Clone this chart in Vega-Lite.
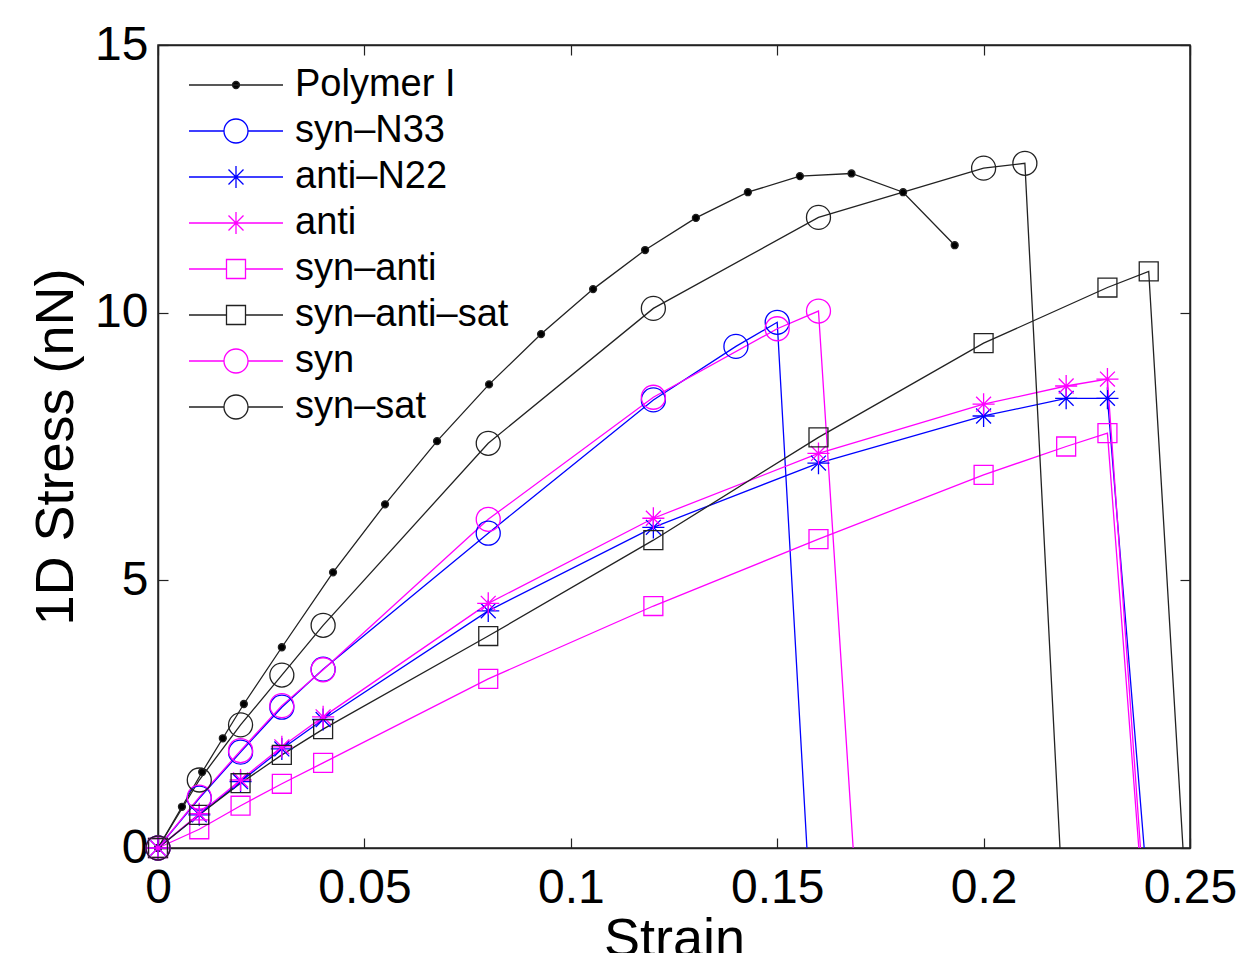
{
  "$schema": "https://vega.github.io/schema/vega-lite/v6.json",
  "autosize": {"type": "none"},
  "padding": {"left": 158, "top": 45, "right": 50, "bottom": 105},
  "width": 1032,
  "height": 803,
  "background": "white",
  "config": {
    "font": "Liberation Sans",
    "view": {"stroke": "#222", "strokeWidth": 1.5},
    "axis": {"grid": false, "domainColor": "#222", "domainWidth": 1.5, "tickColor": "#222", "tickWidth": 1.2, "labelColor": "#000", "titleColor": "#000", "labelFlush": false, "titleFontWeight": "normal"}
  },
  "data": {
    "values": [
      {"series": "Polymer I", "strain": 0, "stress": 0, "kind": "point"},
      {"series": "Polymer I", "strain": 0.0058, "stress": 0.77, "kind": "point"},
      {"series": "Polymer I", "strain": 0.0107, "stress": 1.42, "kind": "point"},
      {"series": "Polymer I", "strain": 0.0157, "stress": 2.05, "kind": "point"},
      {"series": "Polymer I", "strain": 0.0208, "stress": 2.69, "kind": "point"},
      {"series": "Polymer I", "strain": 0.030, "stress": 3.75, "kind": "point"},
      {"series": "Polymer I", "strain": 0.0424, "stress": 5.15, "kind": "point"},
      {"series": "Polymer I", "strain": 0.055, "stress": 6.42, "kind": "point"},
      {"series": "Polymer I", "strain": 0.0676, "stress": 7.6, "kind": "point"},
      {"series": "Polymer I", "strain": 0.0802, "stress": 8.66, "kind": "point"},
      {"series": "Polymer I", "strain": 0.0928, "stress": 9.6, "kind": "point"},
      {"series": "Polymer I", "strain": 0.1054, "stress": 10.44, "kind": "point"},
      {"series": "Polymer I", "strain": 0.118, "stress": 11.17, "kind": "point"},
      {"series": "Polymer I", "strain": 0.1303, "stress": 11.77, "kind": "point"},
      {"series": "Polymer I", "strain": 0.1429, "stress": 12.25, "kind": "point"},
      {"series": "Polymer I", "strain": 0.1555, "stress": 12.55, "kind": "point"},
      {"series": "Polymer I", "strain": 0.168, "stress": 12.6, "kind": "point"},
      {"series": "Polymer I", "strain": 0.1805, "stress": 12.25, "kind": "point"},
      {"series": "Polymer I", "strain": 0.193, "stress": 11.26, "kind": "point"},

      {"series": "syn–N33", "strain": 0, "stress": 0, "kind": "point"},
      {"series": "syn–N33", "strain": 0.01, "stress": 0.93, "kind": "point"},
      {"series": "syn–N33", "strain": 0.02, "stress": 1.79, "kind": "point"},
      {"series": "syn–N33", "strain": 0.03, "stress": 2.63, "kind": "point"},
      {"series": "syn–N33", "strain": 0.04, "stress": 3.34, "kind": "point"},
      {"series": "syn–N33", "strain": 0.08, "stress": 5.88, "kind": "point"},
      {"series": "syn–N33", "strain": 0.12, "stress": 8.37, "kind": "point"},
      {"series": "syn–N33", "strain": 0.14, "stress": 9.37, "kind": "point"},
      {"series": "syn–N33", "strain": 0.15, "stress": 9.82, "kind": "point"},
      {"series": "syn–N33", "strain": 0.1572, "stress": 0, "kind": "failure"},

      {"series": "anti–N22", "strain": 0, "stress": 0, "kind": "point"},
      {"series": "anti–N22", "strain": 0.01, "stress": 0.62, "kind": "point"},
      {"series": "anti–N22", "strain": 0.02, "stress": 1.24, "kind": "point"},
      {"series": "anti–N22", "strain": 0.03, "stress": 1.85, "kind": "point"},
      {"series": "anti–N22", "strain": 0.04, "stress": 2.4, "kind": "point"},
      {"series": "anti–N22", "strain": 0.08, "stress": 4.43, "kind": "point"},
      {"series": "anti–N22", "strain": 0.12, "stress": 5.99, "kind": "point"},
      {"series": "anti–N22", "strain": 0.16, "stress": 7.19, "kind": "point"},
      {"series": "anti–N22", "strain": 0.2, "stress": 8.07, "kind": "point"},
      {"series": "anti–N22", "strain": 0.22, "stress": 8.4, "kind": "point"},
      {"series": "anti–N22", "strain": 0.23, "stress": 8.4, "kind": "point"},
      {"series": "anti–N22", "strain": 0.2389, "stress": 0, "kind": "failure"},

      {"series": "anti", "strain": 0, "stress": 0, "kind": "point"},
      {"series": "anti", "strain": 0.01, "stress": 0.64, "kind": "point"},
      {"series": "anti", "strain": 0.02, "stress": 1.27, "kind": "point"},
      {"series": "anti", "strain": 0.03, "stress": 1.89, "kind": "point"},
      {"series": "anti", "strain": 0.04, "stress": 2.45, "kind": "point"},
      {"series": "anti", "strain": 0.08, "stress": 4.57, "kind": "point"},
      {"series": "anti", "strain": 0.12, "stress": 6.16, "kind": "point"},
      {"series": "anti", "strain": 0.16, "stress": 7.37, "kind": "point"},
      {"series": "anti", "strain": 0.2, "stress": 8.29, "kind": "point"},
      {"series": "anti", "strain": 0.22, "stress": 8.63, "kind": "point"},
      {"series": "anti", "strain": 0.23, "stress": 8.76, "kind": "point"},
      {"series": "anti", "strain": 0.238, "stress": 0, "kind": "failure"},

      {"series": "syn–anti", "strain": 0, "stress": 0, "kind": "point"},
      {"series": "syn–anti", "strain": 0.01, "stress": 0.35, "kind": "point"},
      {"series": "syn–anti", "strain": 0.02, "stress": 0.79, "kind": "point"},
      {"series": "syn–anti", "strain": 0.03, "stress": 1.2, "kind": "point"},
      {"series": "syn–anti", "strain": 0.04, "stress": 1.59, "kind": "point"},
      {"series": "syn–anti", "strain": 0.08, "stress": 3.16, "kind": "point"},
      {"series": "syn–anti", "strain": 0.12, "stress": 4.52, "kind": "point"},
      {"series": "syn–anti", "strain": 0.16, "stress": 5.77, "kind": "point"},
      {"series": "syn–anti", "strain": 0.2, "stress": 6.97, "kind": "point"},
      {"series": "syn–anti", "strain": 0.22, "stress": 7.5, "kind": "point"},
      {"series": "syn–anti", "strain": 0.23, "stress": 7.75, "kind": "point"},
      {"series": "syn–anti", "strain": 0.2376, "stress": 0, "kind": "failure"},

      {"series": "syn–anti–sat", "strain": 0, "stress": 0, "kind": "point"},
      {"series": "syn–anti–sat", "strain": 0.01, "stress": 0.62, "kind": "point"},
      {"series": "syn–anti–sat", "strain": 0.02, "stress": 1.21, "kind": "point"},
      {"series": "syn–anti–sat", "strain": 0.03, "stress": 1.74, "kind": "point"},
      {"series": "syn–anti–sat", "strain": 0.04, "stress": 2.22, "kind": "point"},
      {"series": "syn–anti–sat", "strain": 0.08, "stress": 3.96, "kind": "point"},
      {"series": "syn–anti–sat", "strain": 0.12, "stress": 5.75, "kind": "point"},
      {"series": "syn–anti–sat", "strain": 0.16, "stress": 7.67, "kind": "point"},
      {"series": "syn–anti–sat", "strain": 0.2, "stress": 9.43, "kind": "point"},
      {"series": "syn–anti–sat", "strain": 0.23, "stress": 10.47, "kind": "point"},
      {"series": "syn–anti–sat", "strain": 0.24, "stress": 10.77, "kind": "point"},
      {"series": "syn–anti–sat", "strain": 0.2483, "stress": 0, "kind": "failure"},

      {"series": "syn", "strain": 0, "stress": 0, "kind": "point"},
      {"series": "syn", "strain": 0.01, "stress": 0.95, "kind": "point"},
      {"series": "syn", "strain": 0.02, "stress": 1.82, "kind": "point"},
      {"series": "syn", "strain": 0.03, "stress": 2.66, "kind": "point"},
      {"series": "syn", "strain": 0.04, "stress": 3.33, "kind": "point"},
      {"series": "syn", "strain": 0.08, "stress": 6.14, "kind": "point"},
      {"series": "syn", "strain": 0.12, "stress": 8.42, "kind": "point"},
      {"series": "syn", "strain": 0.15, "stress": 9.7, "kind": "point"},
      {"series": "syn", "strain": 0.16, "stress": 10.03, "kind": "point"},
      {"series": "syn", "strain": 0.1684, "stress": 0, "kind": "failure"},

      {"series": "syn–sat", "strain": 0, "stress": 0, "kind": "point"},
      {"series": "syn–sat", "strain": 0.01, "stress": 1.27, "kind": "point"},
      {"series": "syn–sat", "strain": 0.02, "stress": 2.3, "kind": "point"},
      {"series": "syn–sat", "strain": 0.03, "stress": 3.23, "kind": "point"},
      {"series": "syn–sat", "strain": 0.04, "stress": 4.16, "kind": "point"},
      {"series": "syn–sat", "strain": 0.08, "stress": 7.56, "kind": "point"},
      {"series": "syn–sat", "strain": 0.12, "stress": 10.08, "kind": "point"},
      {"series": "syn–sat", "strain": 0.16, "stress": 11.78, "kind": "point"},
      {"series": "syn–sat", "strain": 0.2, "stress": 12.7, "kind": "point"},
      {"series": "syn–sat", "strain": 0.21, "stress": 12.79, "kind": "point"},
      {"series": "syn–sat", "strain": 0.2185, "stress": 0, "kind": "failure"}
    ]
  },
  "layer": [
    {
      "mark": {"type": "line", "strokeWidth": 1.3, "clip": false},
      "encoding": {
        "x": {
          "field": "strain", "type": "quantitative",
          "scale": {"domain": [0, 0.25], "nice": false, "zero": false},
          "axis": {"orient": "bottom", "values": [0, 0.05, 0.1, 0.15, 0.2, 0.25], "format": "~g", "labelFontSize": 48, "labelPadding": 26, "tickSize": -10, "title": "Strain", "titleFontSize": 54, "titlePadding": 0}
        },
        "y": {
          "field": "stress", "type": "quantitative",
          "scale": {"domain": [0, 15], "nice": false, "zero": false},
          "axis": {"orient": "left", "values": [0, 5, 10, 15], "format": "~g", "labelFontSize": 48, "labelPadding": 20, "tickSize": -10, "title": "1D Stress (nN)", "titleFontSize": 54, "titlePadding": 11}
        },
        "stroke": {
          "field": "series", "type": "nominal",
          "scale": {
            "domain": ["Polymer I", "syn–N33", "anti–N22", "anti", "syn–anti", "syn–anti–sat", "syn", "syn–sat"],
            "range": ["#222222", "#0000ff", "#0000ff", "#ff00ff", "#ff00ff", "#222222", "#ff00ff", "#222222"]
          },
          "legend": null
        },
        "order": {"field": "strain", "type": "quantitative"}
      }
    },
    {
      "transform": [{"filter": "datum.kind === 'point'"}],
      "mark": {"type": "point", "size": 576, "strokeWidth": 1.3, "opacity": 1, "clip": false},
      "encoding": {
        "x": {
          "field": "strain", "type": "quantitative",
          "axis": {"orient": "top", "values": [0, 0.05, 0.1, 0.15, 0.2, 0.25], "labels": false, "tickSize": -10, "title": null}
        },
        "y": {
          "field": "stress", "type": "quantitative",
          "axis": {"orient": "right", "values": [0, 5, 10, 15], "labels": false, "tickSize": -10, "title": null}
        },
        "stroke": {
          "field": "series", "type": "nominal",
          "scale": {
            "domain": ["Polymer I", "syn–N33", "anti–N22", "anti", "syn–anti", "syn–anti–sat", "syn", "syn–sat"],
            "range": ["#222222", "#0000ff", "#0000ff", "#ff00ff", "#ff00ff", "#222222", "#ff00ff", "#222222"]
          },
          "legend": null
        },
        "fill": {
          "field": "series", "type": "nominal",
          "scale": {
            "domain": ["Polymer I", "syn–N33", "anti–N22", "anti", "syn–anti", "syn–anti–sat", "syn", "syn–sat"],
            "range": ["#000000", "transparent", "transparent", "transparent", "transparent", "transparent", "transparent", "transparent"]
          },
          "legend": null
        },
        "shape": {
          "field": "series", "type": "nominal",
          "scale": {
            "domain": ["Polymer I", "syn–N33", "anti–N22", "anti", "syn–anti", "syn–anti–sat", "syn", "syn–sat"],
            "range": [
              "M-0.29,0A0.29,0.29,0,1,1,0.29,0A0.29,0.29,0,1,1,-0.29,0Z",
              "circle",
              "M-0.92,0H0.92M0,-0.92V0.92M-0.62,-0.62L0.62,0.62M-0.62,0.62L0.62,-0.62",
              "M-0.92,0H0.92M0,-0.92V0.92M-0.62,-0.62L0.62,0.62M-0.62,0.62L0.62,-0.62",
              "M-0.79,-0.79H0.79V0.79H-0.79Z",
              "M-0.79,-0.79H0.79V0.79H-0.79Z",
              "circle",
              "circle"
            ]
          },
          "legend": null
        }
      }
    },
    {
      "transform": [{"filter": "datum.kind === 'legend-only'"}],
      "mark": {"type": "point", "size": 1296, "strokeWidth": 1.3, "opacity": 1, "clip": false},
      "encoding": {
        "x": {"field": "strain", "type": "quantitative", "axis": null},
        "y": {"field": "stress", "type": "quantitative", "axis": null},
        "stroke": {
          "field": "series", "type": "nominal",
          "scale": {
            "domain": ["Polymer I", "syn–N33", "anti–N22", "anti", "syn–anti", "syn–anti–sat", "syn", "syn–sat"],
            "range": ["#222222", "#0000ff", "#0000ff", "#ff00ff", "#ff00ff", "#222222", "#ff00ff", "#222222"]
          },
          "legend": {"title": null, "orient": "none", "legendX": 59, "legendY": 21}
        },
        "fill": {
          "field": "series", "type": "nominal",
          "scale": {
            "domain": ["Polymer I", "syn–N33", "anti–N22", "anti", "syn–anti", "syn–anti–sat", "syn", "syn–sat"],
            "range": ["#000000", "transparent", "transparent", "transparent", "transparent", "transparent", "transparent", "transparent"]
          },
          "legend": {"title": null, "orient": "none", "legendX": 59, "legendY": 21}
        },
        "shape": {
          "field": "series", "type": "nominal",
          "scale": {
            "domain": ["Polymer I", "syn–N33", "anti–N22", "anti", "syn–anti", "syn–anti–sat", "syn", "syn–sat"],
            "range": [
              "M-2.611,0H2.611M-0.194,0A0.194,0.194,0,1,1,0.194,0A0.194,0.194,0,1,1,-0.194,0Z",
              "M-2.611,0H-0.667M0.667,0H2.611M-0.667,0A0.667,0.667,0,1,1,0.667,0A0.667,0.667,0,1,1,-0.667,0Z",
              "M-2.611,0H2.611M0,-0.611V0.611M-0.417,-0.417L0.417,0.417M-0.417,0.417L0.417,-0.417",
              "M-2.611,0H2.611M0,-0.611V0.611M-0.417,-0.417L0.417,0.417M-0.417,0.417L0.417,-0.417",
              "M-2.611,0H-0.528M0.528,0H2.611M-0.528,-0.528H0.528V0.528H-0.528Z",
              "M-2.611,0H-0.528M0.528,0H2.611M-0.528,-0.528H0.528V0.528H-0.528Z",
              "M-2.611,0H-0.667M0.667,0H2.611M-0.667,0A0.667,0.667,0,1,1,0.667,0A0.667,0.667,0,1,1,-0.667,0Z",
              "M-2.611,0H-0.667M0.667,0H2.611M-0.667,0A0.667,0.667,0,1,1,0.667,0A0.667,0.667,0,1,1,-0.667,0Z"
            ]
          },
          "legend": {
            "title": null,
            "orient": "none",
            "legendX": 59,
            "legendY": 21,
            "direction": "vertical",
            "padding": 0,
            "symbolSize": 1296,
            "symbolStrokeWidth": 1.3,
            "symbolOpacity": 1,
            "labelFontSize": 38,
            "labelColor": "#000",
            "labelOffset": 40,
            "labelLimit": 0,
            "rowPadding": 8
          }
        }
      }
    }
  ],
  "resolve": {
    "axis": {"x": "independent", "y": "independent"},
    "scale": {"shape": "independent", "stroke": "independent", "fill": "independent"},
    "legend": {"shape": "independent", "stroke": "independent", "fill": "independent"}
  }
}
